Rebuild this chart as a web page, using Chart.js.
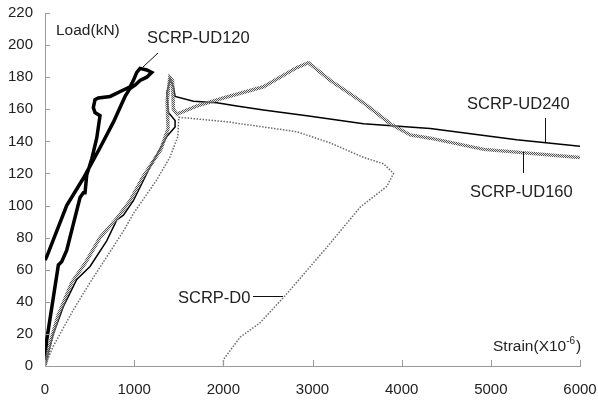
<!DOCTYPE html>
<html>
<head>
<meta charset="utf-8">
<script src="https://cdn.jsdelivr.net/npm/chart.js@4/dist/chart.umd.min.js"></script>
<style>
  html, body { margin: 0; padding: 0; background: #fff; }
  #loadStrain { display: block; }
</style>
</head>
<body>
<canvas id="loadStrain" width="598" height="407"></canvas>
<script>
// load - strain curves, strain in micro-strain, load in kN
var ud120Strain = [0, 19, 150, 187, 243, 393, 430, 449, 468, 524, 580, 617, 561, 542, 561, 598, 730, 879, 954, 991, 1029, 1066, 1141, 1197, 1141, 1066, 1010, 954, 898, 767, 617, 430, 243, 19, 0];
var ud120Load   = [3, 16, 63, 65, 72, 105, 108, 108, 119, 129, 142, 156, 158, 161, 166, 167, 168, 172, 174, 178, 183, 185.5, 184.5, 183, 180, 178, 175, 173, 168, 152, 136, 117, 100, 68, 66];

var ud240Strain = [0, 93, 205, 356, 505, 692, 805, 879, 991, 1178, 1366, 1459, 1459, 1384, 1366, 1403, 1440, 1459, 1665, 1927, 2151, 2450, 2937, 3572, 4321, 5290, 6000];
var ud240Load   = [0, 20, 37, 54, 62, 78, 91, 94, 103, 124, 143, 149, 153, 158, 170, 179, 174, 168, 165, 164, 162, 159.5, 156, 151, 148, 141, 137];

var ud160Strain = [0, 60, 150, 300, 450, 617, 805, 954, 1100, 1300, 1380, 1370, 1400, 1430, 1440, 1480, 1700, 2000, 2450, 2825, 2955, 3199, 3572, 3872, 4096, 4321, 4920, 6000];
var ud160Load   = [0, 15, 32, 52, 64, 80, 92, 103, 118, 135, 148, 165, 180, 178, 160, 157, 162, 167, 174, 186, 189, 178, 164, 151, 144, 142, 135, 130];

var d0Strain = [0, 90, 318, 505, 879, 991, 1253, 1400, 1490, 1500, 1700, 2076, 2189, 2825, 3200, 3572, 3797, 3909, 3834, 3535, 3161, 2712, 2413, 2189, 2001, 2001];
var d0Load   = [0, 12, 35, 52, 84, 95, 116, 130, 143, 155, 154, 152, 151, 146, 139, 130, 126, 120, 112, 99, 74, 45, 27, 18, 4, 0];

var strainTicks = [0, 1000, 2000, 3000, 4000, 5000, 6000];
var loadTicks = [0, 20, 40, 60, 80, 100, 120, 140, 160, 180, 200, 220];

var FONT = "'Liberation Sans', Arial, sans-serif";

function points(xs, ys) {
    return xs.map(function (x, i) { return { x: x, y: ys[i] }; });
}

// dithered grey band used for the UD160 curve
function stipple() {
    var c = document.createElement('canvas');
    c.width = 2; c.height = 2;
    var g = c.getContext('2d');
    g.fillStyle = '#555';
    g.fillRect(0, 0, 1, 1);
    g.fillRect(1, 1, 1, 1);
    g.fillStyle = 'rgba(200,200,200,0.5)';
    g.fillRect(1, 0, 1, 1);
    g.fillRect(0, 1, 1, 1);
    return g.createPattern(c, 'repeat');
}

var notes = {
    id: 'notes',
    afterDraw: function (chart) {
        var ctx = chart.ctx;
        var xs = chart.scales.x, ys = chart.scales.y;
        ctx.save();

        // inward tick marks
        ctx.strokeStyle = '#9a9a9a';
        ctx.lineWidth = 1;
        ctx.beginPath();
        strainTicks.forEach(function (v) {
            var px = Math.round(xs.getPixelForValue(v)) + 0.5;
            ctx.moveTo(px, ys.bottom);
            ctx.lineTo(px, ys.bottom - 6);
        });
        loadTicks.forEach(function (v) {
            var py = Math.round(ys.getPixelForValue(v)) + 0.5;
            ctx.moveTo(xs.left, py);
            ctx.lineTo(xs.left + 5, py);
        });
        ctx.stroke();

        // leader lines
        ctx.strokeStyle = '#111';
        ctx.lineWidth = 1;
        ctx.beginPath();
        ctx.moveTo(158, 53); ctx.lineTo(143, 67);
        ctx.moveTo(545.5, 118); ctx.lineTo(545.5, 142);
        ctx.moveTo(523.5, 152); ctx.lineTo(523.5, 173);
        ctx.moveTo(253, 296.5); ctx.lineTo(283, 296.5);
        ctx.stroke();

        ctx.fillStyle = '#222';
        ctx.textBaseline = 'middle';
        ctx.textAlign = 'left';
        ctx.font = '15.5px ' + FONT;
        ctx.fillText('Load(kN)', 56, 31);
        ctx.font = '16.5px ' + FONT;
        ctx.fillText('SCRP-UD120', 147, 38);
        ctx.fillText('SCRP-UD240', 467, 104);
        ctx.fillText('SCRP-UD160', 470, 192);
        ctx.fillText('SCRP-D0', 178, 298);

        ctx.font = '15.5px ' + FONT;
        var label = 'Strain(X10';
        ctx.fillText(label, 493, 347);
        var w = ctx.measureText(label).width;
        ctx.font = '10px ' + FONT;
        ctx.fillText('-6', 493 + w, 341);
        var w2 = ctx.measureText('-6').width;
        ctx.font = '15.5px ' + FONT;
        ctx.fillText(')', 493 + w + w2 + 1, 347);
        ctx.restore();
    }
};

var ctx = document.getElementById('loadStrain').getContext('2d');

var chart = new Chart(ctx, {
    type: 'scatter',
    data: {
        datasets: [{
            label: 'SCRP-D0',
            data: points(d0Strain, d0Load),
            borderColor: '#6a6a6a',
            borderWidth: 1.5,
            borderDash: [1.5, 1.5]
        }, {
            label: 'SCRP-UD160',
            data: points(ud160Strain, ud160Load),
            borderColor: stipple(),
            borderWidth: 3.5
        }, {
            label: 'SCRP-UD240',
            data: points(ud240Strain, ud240Load),
            borderColor: '#000',
            borderWidth: 1.5
        }, {
            label: 'SCRP-UD120',
            data: points(ud120Strain, ud120Load),
            borderColor: '#000',
            borderWidth: 3.5
        }]
    },
    options: {
        responsive: false,
        animation: false,
        showLine: true,
        layout: {
            padding: { left: 0, top: 13, right: 18, bottom: 0 }
        },
        elements: {
            point: { radius: 0, hoverRadius: 0 },
            line: { tension: 0, fill: false }
        },
        plugins: {
            legend: { display: false },
            tooltip: { enabled: false }
        },
        scales: {
            x: {
                type: 'linear',
                min: 0,
                max: 6000,
                afterFit: function (scale) {
                    scale.height = 41;
                    scale.paddingLeft = 0;
                    scale.paddingRight = 0;
                },
                ticks: {
                    stepSize: 1000,
                    padding: 15,
                    color: '#222',
                    font: { family: FONT, size: 15 },
                    maxRotation: 0,
                    callback: function (v) { return String(v); }
                },
                grid: { drawOnChartArea: false, drawTicks: false },
                border: { display: true, color: '#9a9a9a', width: 1 }
            },
            y: {
                type: 'linear',
                min: 0,
                max: 220,
                afterFit: function (scale) {
                    scale.width = 45;
                    scale.paddingTop = 0;
                    scale.paddingBottom = 0;
                },
                ticks: {
                    stepSize: 20,
                    padding: 12,
                    color: '#222',
                    font: { family: FONT, size: 15 },
                    callback: function (v) { return String(v); }
                },
                grid: { drawOnChartArea: false, drawTicks: false },
                border: { display: true, color: '#9a9a9a', width: 1 }
            }
        }
    },
    plugins: [notes]
});
</script>
</body>
</html>
